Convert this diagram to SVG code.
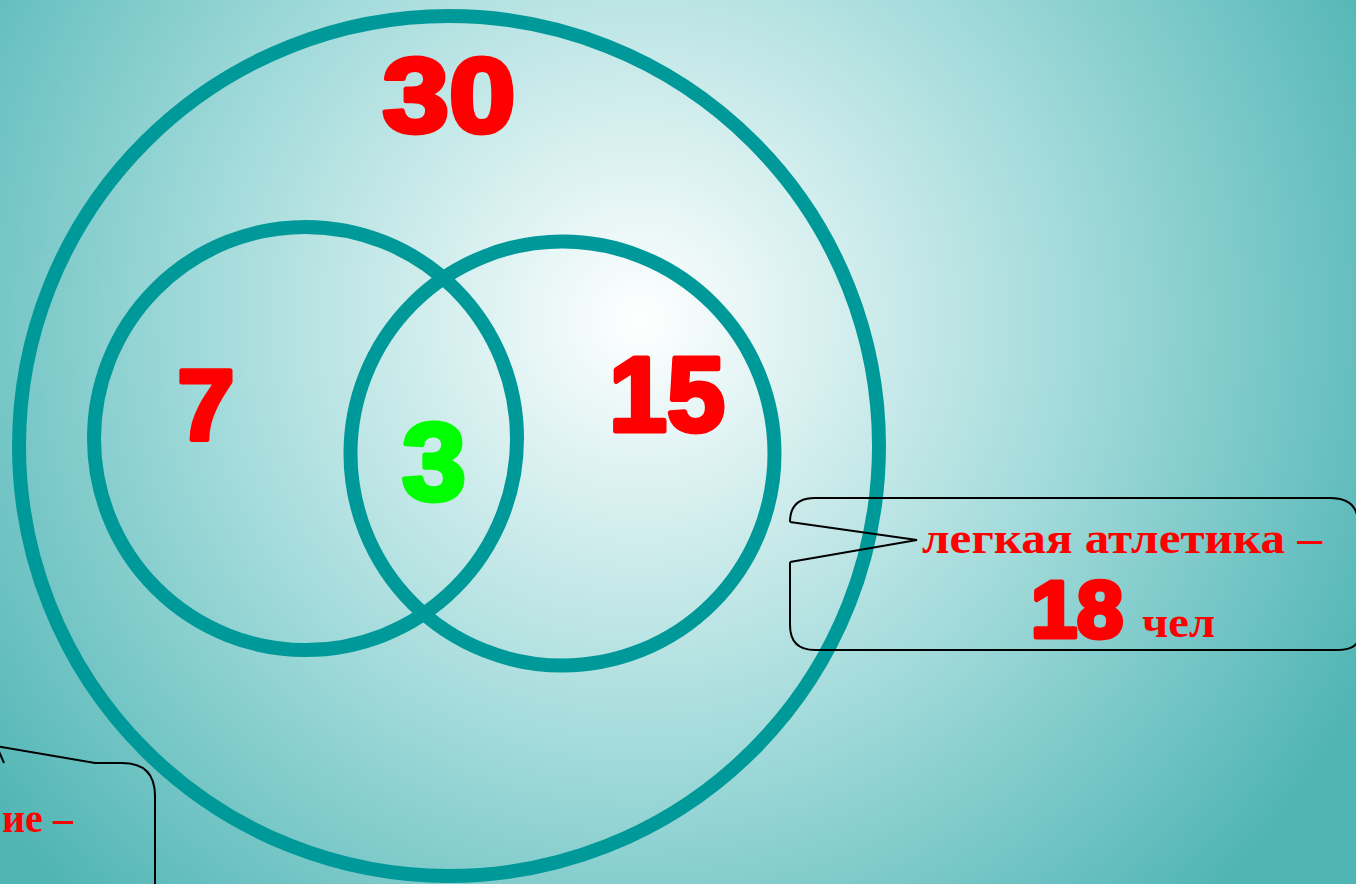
<svg xmlns="http://www.w3.org/2000/svg" width="1356" height="884" viewBox="0 0 1356 884">
<defs>
<radialGradient id="bg" gradientUnits="userSpaceOnUse" cx="640" cy="320" r="820">
<stop offset="0" stop-color="#ffffff"/>
<stop offset="0.55" stop-color="#9fd9d9"/>
<stop offset="1" stop-color="#4fb4b4"/>
</radialGradient>
<style>
.ring{fill:none;stroke:#009999;stroke-width:14}
.num{font-family:"Liberation Sans",Arial,sans-serif;font-weight:bold;stroke-width:5;stroke-linejoin:round}
.red{fill:#ff0000;stroke:#ff0000}
.grn{fill:#00ff00;stroke:#00ff00}
.lbl{font-family:"Liberation Serif","Times New Roman",serif;font-weight:bold;fill:#ff0000}
.call{fill:none;stroke:#000;stroke-width:2}
</style>
</defs>
<rect width="1356" height="884" fill="url(#bg)"/>
<g id="universe"><circle class="ring" cx="449" cy="446" r="430"/>
<text class="num red" x="449" y="132" font-size="106" text-anchor="middle" textLength="133" lengthAdjust="spacingAndGlyphs">30</text></g>
<g id="setA"><circle class="ring" cx="305.5" cy="438.5" r="211.5"/>
<text class="num red" x="206" y="440" font-size="100" text-anchor="middle" textLength="57" lengthAdjust="spacingAndGlyphs">7</text></g>
<g id="setB"><circle class="ring" cx="562.5" cy="453.5" r="212"/>
<text class="num red" x="667" y="431" font-size="106" text-anchor="middle" textLength="116" lengthAdjust="spacingAndGlyphs">15</text></g>
<g id="intersection"><text class="num grn" x="434" y="500" font-size="110" text-anchor="middle" textLength="64" lengthAdjust="spacingAndGlyphs">3</text></g>
<g id="callout-athletics">
<path class="call" d="M790,522 Q790,498 815,498 L1330,498 Q1356,498 1358,520 M790,562 L790,625 Q790,650 815,650 L1335,650 Q1356,650 1358,640 M790,522 L917,540 L790,562"/>
<text class="lbl" x="922" y="553" font-size="44" textLength="400" lengthAdjust="spacingAndGlyphs">легкая  атлетика –</text>
<text class="num red" x="1077" y="637" font-size="80" text-anchor="middle" textLength="92" lengthAdjust="spacingAndGlyphs" stroke-width="4">18</text>
<text class="lbl" x="1142" y="637" font-size="44" textLength="73" lengthAdjust="spacingAndGlyphs">чел</text>
</g>
<g id="callout-left">
<path class="call" d="M-4,746 L95,763 L122,763 Q155,763 155,796 L155,890 M-2,749 L4,763"/>
<text class="lbl" x="2" y="832" font-size="42" textLength="71" lengthAdjust="spacingAndGlyphs">ие –</text>
</g>
<g id="connectors"></g>
</svg>
